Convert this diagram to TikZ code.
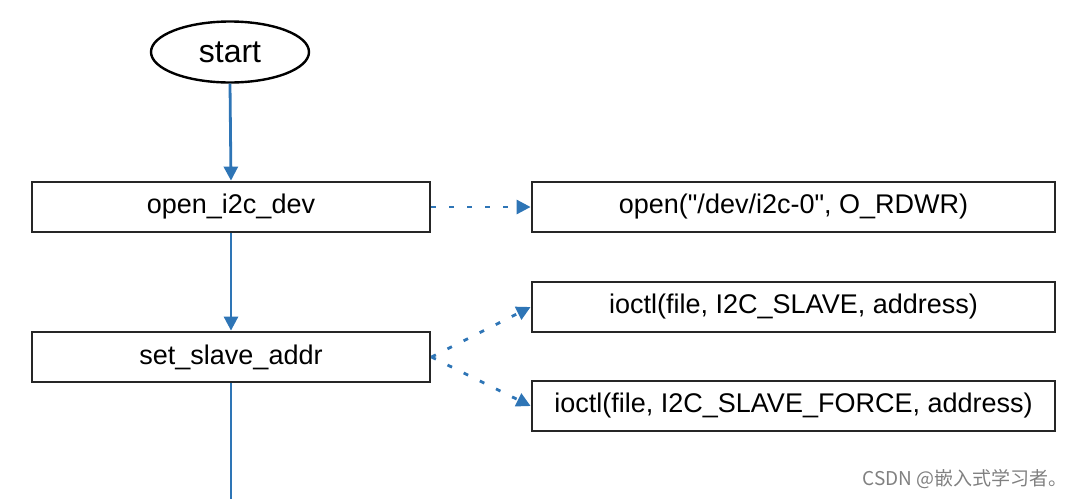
\documentclass[tikz,border=0pt]{standalone}
\usepackage{fontspec}
\setmainfont{Liberation Sans}
\newfontfamily\codefont{Liberation Sans}
\newfontfamily\cjk{Noto Sans CJK SC}
\usetikzlibrary{arrows.meta, shapes.geometric}
\definecolor{flowblue}{RGB}{46,117,182}
\tikzset{>={Triangle[length=14pt,width=14pt]}}

\begin{document}
\begin{tikzpicture}[x=1pt, y=-1pt,
  func/.style={draw=black!85, line width=2.8pt, minimum height=50pt, inner sep=0pt, font=\codefont\fontsize{27}{32}\selectfont},
  call/.style={func, minimum width=523pt},
  flow/.style={->, flowblue, line width=2.8pt},
  link/.style={->, flowblue, line width=2.8pt, dash pattern=on 5pt off 13pt}]
\useasboundingbox (0,0) rectangle (1081,499);
\node[ellipse, draw, line width=2.4pt, minimum width=158pt, minimum height=61pt, inner sep=0pt, font=\fontsize{32}{38}\selectfont] (start) at (230,52) {start};
\node[func, minimum width=398pt] (open) at (231,207) {open\_i2c\_dev};
\node[func, minimum width=398pt] (setaddr) at (231,357) {set\_slave\_addr};
\node[call] (fopen) at (793.5,207) {open("/dev/i2c-0", O\_RDWR)};
\node[call] (slave) at (793.5,307) {ioctl(file, I2C\_SLAVE, address)};
\node[call] (force) at (793.5,406) {ioctl(file, I2C\_SLAVE\_FORCE, address)};
\coordinate (next) at (231,499);
\draw[flow] (start.south) -- (open.north);
\draw[flow] (open.south) -- (setaddr.north);
\draw[flowblue, line width=2.8pt] (setaddr.south) -- (next);
\draw[link] (open.east) -- (fopen.west);
\draw[link] (setaddr.east) -- (slave.west);
\draw[link] (setaddr.east) -- (force.west);
\node[anchor=east, text=black!50, font=\cjk\fontsize{19}{22}\selectfont] (mark) at (1071,479) {CSDN @嵌入式学习者。};
\end{tikzpicture}
\end{document}
